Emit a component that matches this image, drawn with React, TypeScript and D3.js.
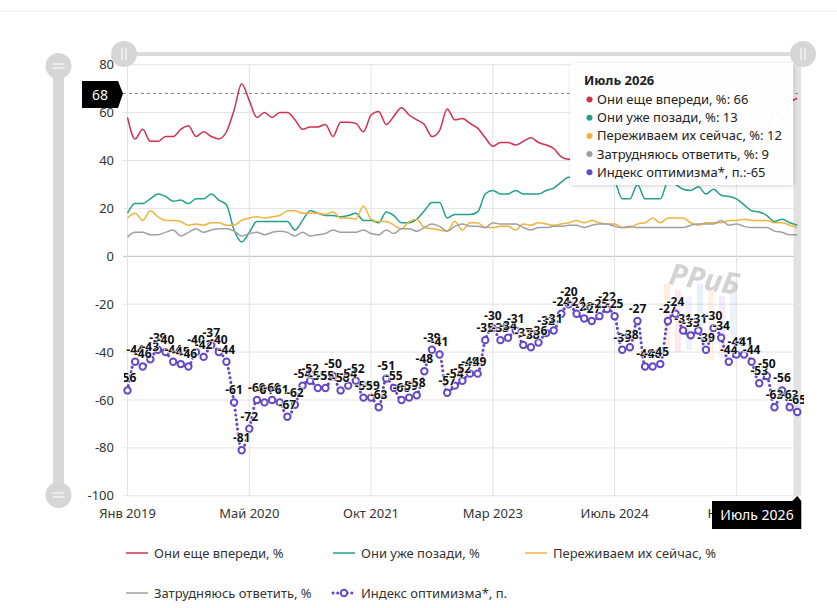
import React, { useEffect, useRef } from 'react';
import * as d3 from 'd3';

// months as they come in the survey; two months had no wave
const MONTHS = ['Янв', 'Фев', 'Мар', 'Апр', 'Май', 'Июнь', 'Июль', 'Авг', 'Сен', 'Окт', 'Ноя', 'Дек'];
const SKIPPED = ['Янв 2021', 'Янв 2022'];
const categories: string[] = [];
for (let yr = 2019; yr <= 2026; yr++) {
  for (let m = 0; m < 12; m++) {
    if (yr === 2026 && m > 6) break;
    const c = `${MONTHS[m]} ${yr}`;
    if (!SKIPPED.includes(c)) categories.push(c);
  }
}

const ahead = [
  58, 49, 53, 48, 48, 50, 50, 53, 54.5, 50,
  52, 50, 49, 52, 61, 72, 65, 58, 60, 58,
  60, 60, 57, 53, 54, 54, 55, 50, 56, 56,
  55.5, 52, 59, 60.5, 55, 58.5, 62, 59, 57, 55,
  50, 52.5, 61.5, 57, 57.5, 55.5, 53.5, 49.5, 46, 47.5,
  47.5, 46.5, 48, 49.5, 47.5, 46.5, 45, 41.5, 40.5, 41,
  43, 43, 42, 40.5, 42.5, 51, 50, 43.5, 56, 54,
  55, 42, 38, 43, 46.5, 47, 51, 44, 45.5, 54,
  50, 47, 48, 56.5, 52, 63.5, 57, 64, 66,
];
const behind = [
  18, 22, 22, 24, 26, 25, 23, 23.5, 22, 24,
  24, 26, 23.5, 21.5, 11, 6, 10, 14.5, 14.5, 14.5,
  14.5, 14.5, 11, 15, 19, 18, 17, 17, 16.5, 17,
  18, 15, 15, 14, 18.5, 17, 14, 14, 15.5, 19,
  22.5, 22.5, 16, 17.5, 17.5, 17.5, 18.5, 26, 27.5, 26,
  26, 27.5, 26, 26, 26, 27.5, 28.5, 31, 33, 32,
  31, 31, 31, 32, 31, 24, 24, 30, 24, 24,
  24, 31, 30, 28, 27.5, 29, 26, 28, 25.5, 25,
  24, 21.5, 19, 18.5, 17, 14.5, 15.5, 14, 13,
];
const now = [
  16, 18, 15, 19, 16.5, 15, 15, 14.5, 13, 13.5,
  13, 14, 14, 13, 13, 15, 16, 16.5, 16, 16.5,
  17, 19, 19, 18, 18, 18, 17.5, 18.5, 16, 16,
  15.5, 21, 15.5, 14.5, 14.5, 13, 11.5, 14.5, 15.5, 12,
  11.5, 11, 10.5, 14.5, 11, 14, 14, 12, 12, 12.5,
  12.5, 11, 13.5, 13, 14, 13.5, 13, 13.5, 14, 15,
  14, 15, 14, 13.5, 13.5, 12, 12, 13.5, 14, 16,
  14, 16, 16, 16, 14, 13, 14, 14, 14, 15,
  15, 15.5, 15, 15, 15, 14, 14, 13, 12,
];
const unsure = [
  8, 10, 10, 9, 9, 10, 11, 8.5, 10, 11.5,
  10, 11, 11.5, 11.5, 10.5, 8.5, 9.5, 10, 9, 10,
  10.5, 10, 8.5, 10, 8.5, 9, 9.5, 11, 10, 10,
  10, 11, 9.5, 9, 11, 9.5, 11.5, 11.5, 10.5, 12,
  13.5, 12.5, 10.5, 12.5, 13.5, 12.5, 12.5, 12, 14, 13.5,
  13.5, 13.5, 12, 11, 12, 12, 12.5, 12.5, 13, 13,
  12, 13, 13.5, 13.5, 12.5, 12, 12.5, 12, 12, 12,
  12, 12, 12, 12, 13, 13.5, 13.5, 13.5, 15, 13,
  13.5, 12.5, 12, 12, 12, 10.5, 10, 9, 9,
];
const optimism = [
  -56, -44, -46, -43, -39, -40, -44, -45, -46, -40,
  -42, -37, -40, -44, -61, -81, -72, -60, -61, -60,
  -61, -67, -62, -54, -52, -55, -55, -50, -56, -54,
  -52, -59, -59, -63, -51, -55, -60, -59, -58, -48,
  -39, -41, -57, -54, -52, -49, -49, -35, -30, -35,
  -34, -31, -37, -38, -36, -32, -31, -24, -20, -24,
  -26, -27, -25, -22, -25, -39, -38, -27, -46, -46,
  -45, -27, -24, -31, -33, -31, -39, -30, -34, -44,
  -41, -41, -44, -53, -50, -63, -56, -63, -65,
];

const seriesNames = [
  'Они еще впереди, %',
  'Они уже позади, %',
  'Переживаем их сейчас, %',
  'Затрудняюсь ответить, %',
  'Индекс оптимизма*, п.',
];
const tooltipUnits = ['%', '%', '%', '%', 'п.'];
const yTicks = [-100, -80, -60, -40, -20, 0, 20, 40, 60, 80];
const hoverValue = 68;

const W = 837;
const H = 608;
const FONT = "'Noto Sans', sans-serif";

const App: React.FC = () => {
  const svgRef = useRef<SVGSVGElement | null>(null);

  useEffect(() => {
    if (!svgRef.current) return;
    const svg = d3.select(svgRef.current);
    svg.selectAll('*').remove();

    const colors = ['#d32f4f', '#23a08a', '#f0b43c', '#a0a0a0', '#6548c8'];
    const plotL = 123, plotR = 803;

    const x = d3.scalePoint<string>().domain(categories).range([127.5, 797.3]);
    const y = d3.scaleLinear().domain([-100, 80]).range([495.8, 64.7]);
    const step = x.step();

    const defs = svg.append('defs');
    defs.append('clipPath').attr('id', 'plot-clip')
      .append('rect').attr('x', plotL).attr('y', 55).attr('width', plotR - plotL).attr('height', 445);
    defs.append('clipPath').attr('id', 'label-clip')
      .append('rect').attr('x', 124).attr('y', 55).attr('width', 680).attr('height', 445);
    const shadow = defs.append('filter').attr('id', 'tip-shadow')
      .attr('x', '-10%').attr('y', '-10%').attr('width', '125%').attr('height', '130%');
    shadow.append('feDropShadow').attr('dx', 1).attr('dy', 1).attr('stdDeviation', 2)
      .attr('flood-color', '#000').attr('flood-opacity', 0.18);

    // thin rule on top of the widget
    svg.append('line').attr('x1', 0).attr('x2', W).attr('y1', 11).attr('y2', 11)
      .attr('stroke', '#eeeeee');

    // grid
    const grid = svg.append('g');
    yTicks.forEach((t) => {
      grid.append('line')
        .attr('x1', plotL).attr('x2', plotR - 4)
        .attr('y1', y(t)).attr('y2', y(t))
        .attr('stroke', t === 0 ? '#bdbdbd' : '#e3e3e3').attr('stroke-width', 1);
      grid.append('text')
        .attr('x', 114).attr('y', y(t)).attr('dy', '0.35em')
        .attr('text-anchor', 'end')
        .style('font-family', FONT).style('font-size', '13px').style('fill', '#333')
        .text(t);
    });
    const tickCats = categories.filter((_, i) => i % 16 === 0);
    tickCats.forEach((c) => {
      grid.append('line')
        .attr('x1', x(c)!).attr('x2', x(c)!)
        .attr('y1', y(80)).attr('y2', y(-100))
        .attr('stroke', '#e3e3e3');
      grid.append('text')
        .attr('x', x(c)!).attr('y', 518).attr('text-anchor', 'middle')
        .style('font-family', FONT).style('font-size', '13px').style('fill', '#333')
        .text(c);
    });

    // crosshair on the last month
    const last = categories[categories.length - 1];
    svg.append('rect')
      .attr('x', x(last)! - step / 2).attr('width', step)
      .attr('y', y(80)).attr('height', y(-100) - y(80))
      .attr('fill', '#e2e2e2');
    svg.append('line')
      .attr('x1', plotL).attr('x2', plotR - 4)
      .attr('y1', y(hoverValue)).attr('y2', y(hoverValue))
      .attr('stroke', '#888').attr('stroke-dasharray', '3,3');

    // watermark
    const wm = svg.append('g').attr('opacity', 0.5);
    const barColors = ['#f7c08a', '#f4a6b8', '#c7cdf0', '#a9c6ea', '#f3d39c', '#d9b3e6', '#b8d4f0'];
    barColors.forEach((c, i) => {
      wm.append('rect')
        .attr('x', 664 + i * 11).attr('y', 284 + (i % 3) * 6)
        .attr('width', 6).attr('height', 70 - (i % 4) * 8)
        .attr('fill', c).attr('opacity', 0.55);
    });
    wm.append('text')
      .attr('transform', 'translate(668,284) rotate(9)')
      .style('font-family', FONT).style('font-size', '30px').style('font-weight', 'bold')
      .style('font-style', 'italic').style('fill', '#a8a8a8')
      .text('РРиБ');

    // series
    const series = [ahead, behind, now, unsure];
    const plot = svg.append('g').attr('clip-path', 'url(#plot-clip)');
    series.forEach((vals, si) => {
      const line = d3.line<number>()
        .x((_, i) => x(categories[i])!)
        .y((d) => y(d))
        .curve(d3.curveMonotoneX);
      plot.append('path')
        .datum(vals)
        .attr('d', line)
        .attr('fill', 'none')
        .attr('stroke', colors[si])
        .attr('stroke-width', 1.5);
    });

    const idxLine = d3.line<number>()
      .x((_, i) => x(categories[i])!)
      .y((d) => y(d))
      .curve(d3.curveMonotoneX);
    plot.append('path')
      .datum(optimism)
      .attr('d', idxLine)
      .attr('fill', 'none')
      .attr('stroke', colors[4])
      .attr('stroke-width', 3)
      .attr('stroke-linecap', 'round')
      .attr('stroke-dasharray', '0.1,4.6');
    plot.selectAll('.marker')
      .data(optimism)
      .enter()
      .append('circle')
      .attr('class', 'marker')
      .attr('cx', (_, i) => x(categories[i])!)
      .attr('cy', (d) => y(d))
      .attr('r', 3.2)
      .attr('fill', '#fff')
      .attr('stroke', colors[4])
      .attr('stroke-width', 2);

    svg.append('g').attr('clip-path', 'url(#label-clip)')
      .selectAll('text')
      .data(optimism)
      .enter()
      .append('text')
      .attr('x', (_, i) => x(categories[i])!)
      .attr('y', (d) => y(d) - 8)
      .attr('text-anchor', 'middle')
      .style('font-family', FONT).style('font-size', '12px').style('font-weight', 'bold')
      .style('fill', '#111')
      .style('stroke', '#fff').style('stroke-width', '1.2px').style('paint-order', 'stroke')
      .text((d) => d);

    // tooltip
    const tip = svg.append('g').attr('transform', 'translate(570,63)');
    tip.append('rect')
      .attr('width', 223).attr('height', 122).attr('rx', 3)
      .attr('fill', '#fff').attr('fill-opacity', 0.96)
      .attr('filter', 'url(#tip-shadow)');
    tip.append('text')
      .attr('x', 14).attr('y', 22)
      .style('font-family', FONT).style('font-size', '13px').style('font-weight', 'bold')
      .style('fill', '#222')
      .text(last);
    const lastVals = [ahead, behind, now, unsure, optimism].map((s) => s[s.length - 1]);
    seriesNames.forEach((name, i) => {
      const ty = 41 + i * 18.2;
      tip.append('circle').attr('cx', 19.5).attr('cy', ty - 4.5).attr('r', 3).attr('fill', colors[i]);
      tip.append('text')
        .attr('x', 27).attr('y', ty)
        .style('font-family', FONT).style('font-size', '13px').style('fill', '#222')
        .text(`${name.replace(/, (%|п\.)$/, '')}, ${tooltipUnits[i]}:${i === 4 ? '' : ' '}${lastVals[i]}`);
    });

    // crosshair labels
    const yl = svg.append('g');
    yl.append('path')
      .attr('d', `M82,81 H118 L123,${y(hoverValue)} L118,108 H82 Z`)
      .attr('fill', '#000');
    yl.append('text')
      .attr('x', 100).attr('y', 99.5).attr('text-anchor', 'middle')
      .style('font-family', FONT).style('font-size', '14px').style('fill', '#fff')
      .text(hoverValue);
    const xl = svg.append('g');
    const lx = x(last)!;
    xl.append('path')
      .attr('d', `M712,501 H${lx - 5} L${lx},496 L${lx + 4},501 V529 H712 Z`)
      .attr('fill', '#000');
    xl.append('text')
      .attr('x', 757).attr('y', 520).attr('text-anchor', 'middle')
      .style('font-family', FONT).style('font-size', '14px').style('fill', '#fff')
      .text(last);

    // navigator bars
    const nav = svg.append('g');
    nav.append('rect').attr('x', 53).attr('y', 66).attr('width', 11).attr('height', 429).attr('fill', '#d9d9d9');
    nav.append('rect').attr('x', 124).attr('y', 52).attr('width', 679).attr('height', 4).attr('fill', '#dcdcdc');
    [[58.5, 66], [58.5, 495]].forEach(([cx, cy]) => {
      nav.append('circle').attr('cx', cx).attr('cy', cy).attr('r', 13).attr('fill', '#d6d6d6');
      [-2, 2].forEach((o) => nav.append('line')
        .attr('x1', cx - 6).attr('x2', cx + 6).attr('y1', cy + o).attr('y2', cy + o)
        .attr('stroke', '#fff').attr('stroke-width', 1));
    });
    [[124, 54], [803, 54]].forEach(([cx, cy]) => {
      nav.append('circle').attr('cx', cx).attr('cy', cy).attr('r', 13).attr('fill', '#d6d6d6');
      [-2, 2].forEach((o) => nav.append('line')
        .attr('x1', cx + o).attr('x2', cx + o).attr('y1', cy - 6).attr('y2', cy + 6)
        .attr('stroke', '#fff').attr('stroke-width', 1));
    });

    // legend
    const legendPos = [[126, 553], [333, 553], [525, 553], [126, 593], [333, 593]];
    seriesNames.forEach((name, i) => {
      const [lx0, ly] = legendPos[i];
      const g = svg.append('g');
      if (i < 4) {
        g.append('line').attr('x1', lx0).attr('x2', lx0 + 22).attr('y1', ly).attr('y2', ly)
          .attr('stroke', colors[i]).attr('stroke-width', 1.5);
      } else {
        g.append('line').attr('x1', lx0).attr('x2', lx0 + 22).attr('y1', ly).attr('y2', ly)
          .attr('stroke', colors[i]).attr('stroke-width', 3).attr('stroke-linecap', 'round')
          .attr('stroke-dasharray', '0.1,4.6');
        g.append('circle').attr('cx', lx0 + 11).attr('cy', ly).attr('r', 3.2)
          .attr('fill', '#fff').attr('stroke', colors[i]).attr('stroke-width', 2);
      }
      g.append('text')
        .attr('x', lx0 + 28).attr('y', ly).attr('dy', '0.35em')
        .style('font-family', FONT).style('font-size', '13px').style('fill', '#333')
        .text(name);
    });
  }, []);

  return (
    <svg
      ref={svgRef}
      width={W}
      height={H}
      style={{ position: 'absolute', left: 0, top: 0, background: '#fff' }}
    ></svg>
  );
};

export default App;
